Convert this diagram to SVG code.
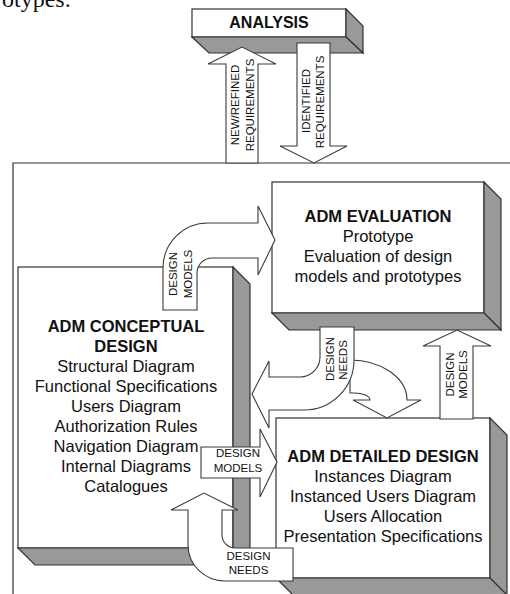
<svg xmlns="http://www.w3.org/2000/svg" width="510" height="594" viewBox="0 0 510 594">
<style>
.face{fill:#ffffff;stroke:#333;stroke-width:1.2}
.side{fill:#999999;stroke:#333;stroke-width:1.2;stroke-linejoin:miter}
.arr{fill:#ffffff;stroke:#3a3a3a;stroke-width:1.1;stroke-linejoin:miter}
.t{font-family:"Liberation Sans",Arial,sans-serif;fill:#111;text-anchor:middle}
.h{font-size:16.5px;font-weight:bold}
.b{font-size:16.5px}
.s{font-size:11.5px}
</style>
<rect width="510" height="594" fill="#ffffff"/>
<text x="2" y="7" style="font-family:'Liberation Serif','Times New Roman',serif;font-size:24px;fill:#111">otypes.</text>
<g id="frame"><path d="M13,594 L13,163 L510,163" fill="none" stroke="#333" stroke-width="1.2"/></g>
<g id="analysis">
<rect class="face" x="192" y="9" width="154" height="28"/>
<polygon class="side" points="346,9 363,26 363,53 346,37"/>
<polygon class="side" points="192,37 346,37 363,53 209,53"/>
<text class="t" x="269" y="28" style="font-size:16px;font-weight:bold">ANALYSIS</text>
</g>
<g id="evaluation">
<rect class="face" x="272" y="182" width="212" height="131"/>
<polygon class="side" points="484,182 501,199 501,330 484,313"/>
<polygon class="side" points="272,313 484,313 501,330 289,330"/>
<text class="t h" x="378" y="222">ADM EVALUATION</text>
<text class="t b" x="378" y="242">Prototype</text>
<text class="t b" x="378" y="262">Evaluation of design</text>
<text class="t b" x="378" y="282">models and prototypes</text>
</g>
<g id="conceptual">
<rect class="face" x="18" y="267" width="215" height="281"/>
<polygon class="side" points="233,267 250,284 250,565 233,548"/>
<polygon class="side" points="18,548 233,548 250,565 35,565"/>
<text class="t h" x="126" y="332">ADM CONCEPTUAL</text>
<text class="t h" x="126" y="352">DESIGN</text>
<text class="t b" x="126" y="372">Structural Diagram</text>
<text class="t b" x="126" y="392">Functional Specifications</text>
<text class="t b" x="126" y="412">Users Diagram</text>
<text class="t b" x="126" y="432">Authorization Rules</text>
<text class="t b" x="126" y="452">Navigation Diagram</text>
<text class="t b" x="126" y="472">Internal Diagrams</text>
<text class="t b" x="126" y="492">Catalogues</text>
</g>
<g id="detailed">
<rect class="face" x="276" y="418" width="214" height="160"/>
<polygon class="side" points="490,418 507,435 507,595 490,578"/>
<polygon class="side" points="276,578 490,578 507,595 293,595"/>
<text class="t h" x="383" y="462">ADM DETAILED DESIGN</text>
<text class="t b" x="383" y="482">Instances Diagram</text>
<text class="t b" x="383" y="502">Instanced Users Diagram</text>
<text class="t b" x="383" y="522">Users Allocation</text>
<text class="t b" x="383" y="542">Presentation Specifications</text>
</g>
<g id="connectors">
<g id="new-refined-requirements">
<polygon class="arr" points="226,163 226,64 208,64 242,47 276,64 258,64 258,163"/>
<text class="t s" transform="translate(239,105) rotate(-90)">NEW/REFINED</text>
<text class="t s" transform="translate(254,105) rotate(-90)">REQUIREMENTS</text>
</g>
<g id="identified-requirements">
<polygon class="arr" points="297,43 330,43 330,146 347,146 314,163 280,146 297,146"/>
<text class="t s" transform="translate(310,101) rotate(-90)">IDENTIFIED</text>
<text class="t s" transform="translate(324,102) rotate(-90)">REQUIREMENTS</text>
</g>
<g id="models-conceptual-evaluation">
<path class="arr" d="M163,310 L163,268 A45,45 0 0 1 208,223 L258,223 L258,206 L275,240 L258,275 L258,258 L212,258 A15,15 0 0 0 197,273 L197,310 Z"/>
<text class="t s" transform="translate(177,274) rotate(-90)">DESIGN</text>
<text class="t s" transform="translate(192,274) rotate(-90)">MODELS</text>
</g>
<g id="needs-evaluation-detailed">
<path class="arr" d="M350,360 A57,40 0 0 1 407,400 L421,400 L387,418 L353,400 L370,400 A16,7 0 0 0 354,393 L350,393 Z"/>
</g>
<g id="needs-evaluation-conceptual">
<path class="arr" d="M320,327 L354,327 L354,360 A50,50 0 0 1 304,410 L269,410 L269,428 L252,394 L269,361 L269,377 L300,377 A20,20 0 0 0 320,357 Z"/>
<text class="t s" transform="translate(334,359) rotate(-90)">DESIGN</text>
<text class="t s" transform="translate(347,360) rotate(-90)">NEEDS</text>
</g>
<g id="models-conceptual-detailed">
<polygon class="arr" points="201,447 260,447 260,429 277,462 260,497 260,478 201,478"/>
<text class="t s" x="238" y="457">DESIGN</text>
<text class="t s" x="238" y="472">MODELS</text>
</g>
<g id="needs-detailed-conceptual">
<path class="arr" d="M293,548 L293,581 L225,581 A37,36 0 0 1 188,545 L188,510 L171,510 L204,493 L238,510 L222,510 L222,535 A13,13 0 0 0 235,548 Z"/>
<text class="t s" x="248.5" y="560">DESIGN</text>
<text class="t s" x="248.5" y="574">NEEDS</text>
</g>
<g id="models-detailed-evaluation">
<polygon class="arr" points="440,419 440,346 423,346 457,330 491,346 473,346 473,419"/>
<text class="t s" transform="translate(454,374.5) rotate(-90)">DESIGN</text>
<text class="t s" transform="translate(467,374.5) rotate(-90)">MODELS</text>
</g>
</g>
</svg>
